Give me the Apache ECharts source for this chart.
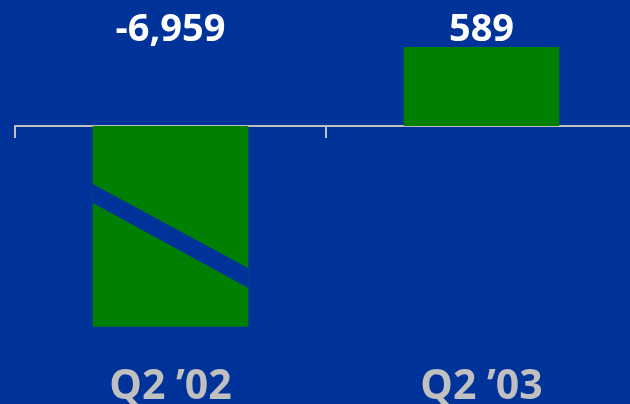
<!DOCTYPE html>
<html>
<head>
<meta charset="utf-8">
<script src="https://cdn.jsdelivr.net/npm/echarts@6/dist/echarts.min.js"></script>
<style>
  html, body { margin: 0; padding: 0; background: #003399; }
  #chart { width: 630px; height: 404px; }
</style>
</head>
<body>
<div id="chart"></div>
<script>
// Quarterly figures
const categories = ['Q2 ’02', 'Q2 ’03'];
const values = [-6959, 589];
// Portion of the value axis folded away so the large bar fits
const foldStart = -6283;
const foldEnd = -820;

const BG = '#003399';
const GREEN = '#008000';
const GREY = '#c0c0c0';
const FONT = '"Open Sans", "DejaVu Sans", sans-serif';

const chart = echarts.init(document.getElementById('chart'), null, { renderer: 'canvas' });

const valueLabel = {
  show: true,
  position: 'top',
  distance: -2,
  color: '#ffffff',
  fontFamily: FONT,
  fontWeight: 'bold',
  fontSize: 38,
  formatter: p => p.value.toLocaleString('en-US')
};

chart.setOption({
  backgroundColor: BG,
  animation: false,
  grid: {
    left: 15, width: 622, top: 5.28, bottom: 45,
    containLabel: false, outerBoundsMode: 'none'
  },
  xAxis: [
    {
      type: 'category',
      data: categories,
      boundaryGap: true,
      axisLine: { show: true, onZero: true, lineStyle: { color: GREY, width: 2 } },
      axisTick: { show: true, length: 12, lineStyle: { color: GREY, width: 2 } },
      axisLabel: { show: false },
      splitLine: { show: false }
    },
    {
      type: 'category',
      data: categories,
      position: 'bottom',
      axisLine: { show: false, onZero: false },
      axisTick: { show: false },
      axisLabel: {
        show: true, color: GREY, fontFamily: FONT, fontWeight: 'bold', fontSize: 41, margin: 8
      }
    }
  ],
  yAxis: {
    type: 'value',
    show: false,
    min: -7200,
    max: 900,
    breaks: [{ start: foldStart, end: foldEnd, gap: 0 }],
    breakArea: { show: false },
    splitLine: { show: false }
  },
  series: [
    {
      type: 'bar',
      xAxisIndex: 0,
      data: values,
      barWidth: '50%',
      itemStyle: { color: GREEN },
      label: valueLabel,
      z: 2
    },
    {
      // diagonal cut across the folded bar
      type: 'custom',
      xAxisIndex: 0,
      data: [[0, (foldStart + foldEnd) / 2]],
      z: 3,
      renderItem: (params, api) => {
        const c = api.coord([api.value(0), api.value(1)]);
        const half = api.size([1, 0])[0] * 0.25;
        const xl = c[0] - half, xr = c[0] + half, y = c[1];
        return {
          type: 'polygon',
          shape: { points: [[xl, y - 52], [xr, y + 32], [xr, y + 52], [xl, y - 33]] },
          style: { fill: BG }
        };
      }
    }
  ]
});

// Every value label sits level with the tallest positive bar's label
const topValue = Math.max(...values);
const yZero = chart.convertToPixel({ yAxisIndex: 0 }, 0);
const yTop = chart.convertToPixel({ yAxisIndex: 0 }, topValue);
chart.setOption({
  series: [{
    data: values.map(v => v < 0
      ? { value: v, label: { offset: [0, yTop - yZero] } }
      : v)
  }]
});
</script>
</body>
</html>
